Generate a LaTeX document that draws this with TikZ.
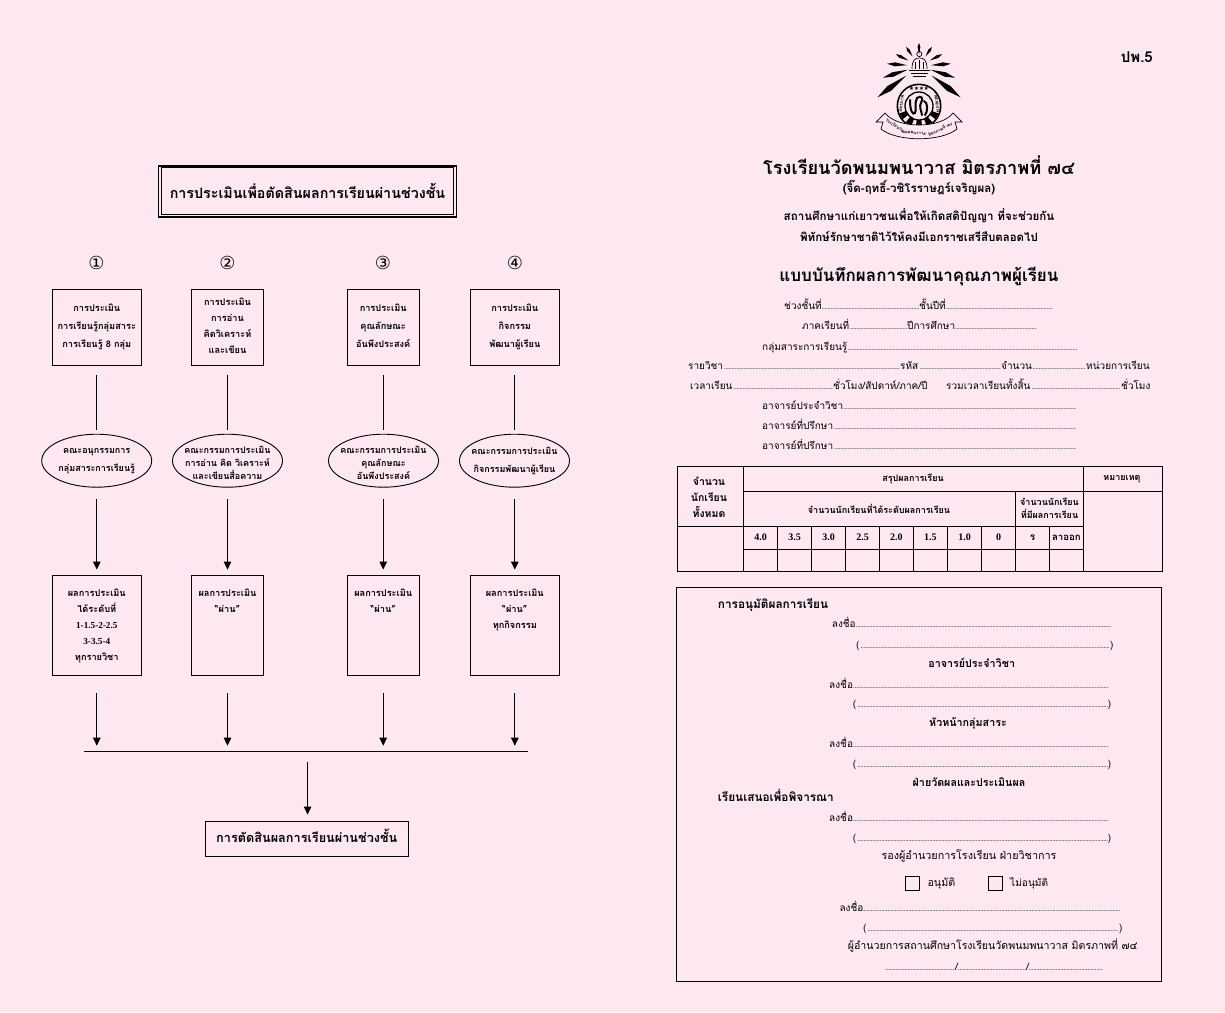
\documentclass[tikz,border=0pt]{standalone}
\usepackage{fontspec}
\usetikzlibrary{arrows.meta,shapes.geometric}
\setmainfont[Script=Thai]{Loma}
\newfontfamily\numfont{Liberation Serif}
\newfontfamily\symfont{DejaVu Sans}
\definecolor{pagepink}{RGB}{253,232,241}
\newcommand{\DotLeader}{\leaders\hbox to 1.5pt{\hss\fontsize{6.5}{7}\selectfont.\hss}\hfill}
\newcommand{\Seg}[2]{\hbox to #1pt{#2\DotLeader}}
\newcommand{\TextUp}{\rule[-3.5pt]{0pt}{0pt}}
\newcommand{\TextDown}{\rule{0pt}{12pt}}
\tikzset{
  boxbase/.style={draw, line width=0.9pt, inner sep=0pt, align=center,
    font=\bfseries\fontsize{9.2}{16}\selectfont},
  assessbox/.style={boxbase},
  resultbox/.style={boxbase},
  boxtext/.style={inner sep=0pt, anchor=north, align=center,
    font=\bfseries\fontsize{9.2}{16}\selectfont},
  cmteell/.style={ellipse, draw, line width=0.9pt, inner xsep=-6pt, inner ysep=-2pt, align=center,
    minimum width=110pt, minimum height=53pt,
    font=\bfseries\fontsize{9}{13}\selectfont},
  stepnum/.style={inner sep=0pt, font=\symfont\fontsize{18}{18}\selectfont},
  plainline/.style={line width=0.9pt},
  arrowline/.style={line width=0.9pt, -{Triangle[width=7.5pt,length=8pt]}},
  formtext/.style={anchor=base west, inner sep=0pt, yshift=-3.5pt,
    font=\fontsize{10}{12}\selectfont},
  formhead/.style={anchor=base west, inner sep=0pt, yshift=-4pt,
    font=\bfseries\fontsize{11.8}{14}\selectfont},
  formmid/.style={anchor=base, inner sep=0pt, yshift=-4pt,
    font=\bfseries\fontsize{10.7}{13}\selectfont},
  tablehead/.style={inner sep=0pt, align=center,
    font=\bfseries\fontsize{9}{13}\selectfont},
  tablenum/.style={inner sep=0pt, font=\numfont\bfseries\fontsize{10}{12}\selectfont},
  schoolline/.style={anchor=base, inner sep=0pt},
  tinyseal/.style={inner sep=0pt, font=\bfseries\fontsize{4.2}{5}\selectfont},
}
\begin{document}
\begin{tikzpicture}[x=1pt, y=-1pt]
  \fill[pagepink] (0,0) rectangle (1225,1012);
  \useasboundingbox (0,0) rectangle (1225,1012);

  % left page
  \node[draw, line width=0.7pt, minimum width=292pt, minimum height=47pt, inner sep=0pt,
    font=\bfseries\fontsize{14.3}{16}\selectfont] (headbox) at (307.5,190.5)
    {การประเมินเพื่อตัดสินผลการเรียนผ่านช่วงชั้น};
  \draw[line width=1.8pt] (158.5,166) rectangle (456.5,217);

  \node[stepnum] (num1) at (96.5,262.7) {①};
  \node[stepnum] (num2) at (227.5,262.7) {②};
  \node[stepnum] (num3) at (383,262.7) {③};
  \node[stepnum] (num4) at (515,262.7) {④};

  \node[assessbox, minimum width=89.6pt, minimum height=76.4pt, font=\bfseries\fontsize{9.2}{18}\selectfont] (eval1) at (96.8,327.5)
    {การประเมิน\\การเรียนรู้กลุ่มสาระ\\การเรียนรู้ 8 กลุ่ม\TextUp};
  \node[assessbox, minimum width=72pt, minimum height=76.4pt] (eval2) at (227.5,327.5)
    {การประเมิน\\การอ่าน\\คิดวิเคราะห์\\และเขียน\TextUp};
  \node[assessbox, minimum width=72.5pt, minimum height=76.4pt, font=\bfseries\fontsize{9.2}{18}\selectfont] (eval3) at (383.2,327.5)
    {การประเมิน\\คุณลักษณะ\\อันพึงประสงค์\TextUp};
  \node[assessbox, minimum width=89.6pt, minimum height=76.4pt, font=\bfseries\fontsize{9.2}{18}\selectfont] (eval4) at (514.8,327.5)
    {การประเมิน\\กิจกรรม\\พัฒนาผู้เรียน\TextUp};

  \node[cmteell, font=\bfseries\fontsize{9}{18}\selectfont] (cmte1) at (96.7,460.7) {คณะอนุกรรมการ\\กลุ่มสาระการเรียนรู้};
  \node[cmteell] (cmte2) at (227.5,460.7) {\TextDown คณะกรรมการประเมิน\\การอ่าน คิด วิเคราะห์\\และเขียนสื่อความ};
  \node[cmteell] (cmte3) at (383.5,460.7) {\TextDown คณะกรรมการประเมิน\\คุณลักษณะ\\อันพึงประสงค์};
  \node[cmteell, font=\bfseries\fontsize{9}{18}\selectfont] (cmte4) at (514.5,460.7) {คณะกรรมการประเมิน\\กิจกรรมพัฒนาผู้เรียน};

  \node[resultbox, minimum width=89.6pt, minimum height=100.7pt] (res1) at (96.8,625.4) {};
  \node[resultbox, minimum width=72pt, minimum height=100.7pt] (res2) at (227.5,625.4) {};
  \node[resultbox, minimum width=72.5pt, minimum height=100.7pt] (res3) at (383.2,625.4) {};
  \node[resultbox, minimum width=89.6pt, minimum height=100.7pt] (res4) at (514.8,625.4) {};
  \node[boxtext] (restext1) at (96.8,589) {ผลการประเมิน\\ได้ระดับที่\\{\numfont 1-1.5-2-2.5}\\{\numfont 3-3.5-4}\\ทุกรายวิชา};
  \node[boxtext] (restext2) at (227.5,589) {ผลการประเมิน\\“ผ่าน”};
  \node[boxtext] (restext3) at (383.2,589) {ผลการประเมิน\\“ผ่าน”};
  \node[boxtext] (restext4) at (514.8,589) {ผลการประเมิน\\“ผ่าน”\\ทุกกิจกรรม};

  \coordinate (barleft) at (84,751.7);
  \coordinate (barright) at (528,751.7);
  \coordinate (barmid) at (307.6,751.7);
  \node[draw, line width=0.9pt, minimum width=202.4pt, minimum height=35pt, inner sep=0pt,
    font=\bfseries\fontsize{12.7}{14}\selectfont] (decide) at (306.8,839.2)
    {การตัดสินผลการเรียนผ่านช่วงชั้น\rule[-7pt]{0pt}{0pt}};

  \foreach \i in {1,2,3,4} {
    \draw[plainline, shorten <=9pt, shorten >=4pt] (eval\i) ++(0,38.2) -- (eval\i |- cmte\i.north);
    \draw[arrowline, shorten <=11pt, shorten >=5pt] (eval\i |- cmte\i.south) -- (eval\i |- res\i.north);
    \draw[arrowline, shorten <=17pt, shorten >=6pt] (res\i) ++(0,50.35) -- (res\i |- barleft);
  }
  \draw[plainline] (barleft) -- (barright);
  \draw[arrowline, shorten <=10pt, shorten >=6.7pt] (barmid) -- (barmid |- decide.north);

  % school seal
  \begin{scope}[shift={(919,66)}]
    \foreach \a/\s/\r/\w in {217/16/52/3,198/12/38/2.3,176/12/32/2,153/12/26/1.6,124/11.5/23/1.4,90/11.5/23/1.4,56/11.5/23/1.4,27/12/26/1.6,4/12/32/2,-18/12/38/2.3,-37/16/52/3}
      \fill[black, rotate=\a] (\s,0) -- (0.55*\s+0.55*\r,\w) -- (\r,0) -- (0.55*\s+0.55*\r,-\w) -- cycle;
  \end{scope}
  \draw[line width=0.7pt] (919.3,46) -- (919.3,51);
  \draw[line width=0.7pt] (919.3,54) circle (2.6pt);
  \draw[line width=0.7pt] (912,69) .. controls (912,60) and (915,58) .. (919.3,58) .. controls (924,58) and (927,60) .. (927,69);
  \draw[line width=0.7pt] (915,69) -- (915,62) (919.3,60) -- (919.3,69) (923.5,62) -- (923.5,69);
  \draw[line width=0.7pt] (909,70) -- (930,70) (911,73) -- (928,73) (913,76) -- (926,76);
  \begin{scope}[shift={(919,106)}]
    \fill[black] (0,0) circle (22.5);
    \fill[pagepink] (0,0) circle (20.8);
    \foreach \a in {30,60,90,120,150} {
      \fill[black] (\a-9:21) -- (\a+9:21) -- (\a+9:14) -- (\a-9:14) -- cycle;
    }
    \draw[line width=1.3pt, fill=pagepink] (0,0) circle (14);
    \draw[line width=2pt, line cap=round] (-9,-6) .. controls (-9,6) and (-6,9) .. (-4,7) .. controls (-2,4) and (-5,-3) .. (-2,-8)
      .. controls (2,-11) and (5,-8) .. (2,-3) .. controls (0,0) and (2,4) .. (3,9);
    \draw[line width=2pt, line cap=round] (5,-5) .. controls (9,-4) and (9,6) .. (6,9);
    \node[inner sep=0pt, font=\symfont\fontsize{5.5}{6}\selectfont] (sealstars) at (0,-17.5) {★★★★};
    \node[tinyseal, rotate=82, font=\bfseries\fontsize{4.5}{5}\selectfont] (sealleft) at (-18,-2) {มิตรภาพ};
    \node[tinyseal, rotate=-82, font=\bfseries\fontsize{3.8}{5}\selectfont] (sealright) at (18,-2) {FRIENDSHIP};
  \end{scope}
  \draw[line width=0.7pt, fill=pagepink] (885,113) .. controls (897,129) and (941,129) .. (953,113)
    -- (962,122) -- (955,122) -- (957,129) .. controls (941,142) and (897,142) .. (881,129)
    -- (883,122) -- (876,122) -- cycle;
  \node[tinyseal, rotate=-32] (sealname1) at (895,125.5) {โรงเรียนวัด};
  \node[tinyseal, rotate=-5] (sealname2) at (914,133) {พนมพนาวาส};
  \node[tinyseal, rotate=26] (sealname3) at (940,129) {มิตรภาพที่ ๗๔};

  % right page heading
  \node[formhead, anchor=base east, font=\bfseries\fontsize{15}{17}\selectfont] (formcode) at (1153,58) {ปพ.5};
  \node[schoolline, font=\bfseries\fontsize{18.2}{20}\selectfont] (school) at (919,174) {โรงเรียนวัดพนมพนาวาส มิตรภาพที่ ๗๔};
  \node[schoolline, font=\bfseries\fontsize{11.5}{13}\selectfont] (schoolsub) at (919,192) {(จิ๊ด-ฤทธิ์-วชิโรราษฎร์เจริญผล)};
  \node[schoolline, font=\bfseries\fontsize{11.6}{13}\selectfont] (motto1) at (919,220) {สถานศึกษาแก่เยาวชนเพื่อให้เกิดสติปัญญา ที่จะช่วยกัน};
  \node[schoolline, font=\bfseries\fontsize{11.5}{13}\selectfont] (motto2) at (919,241) {พิทักษ์รักษาชาติไว้ให้คงมีเอกราชเสรีสืบตลอดไป};
  \node[schoolline, font=\bfseries\fontsize{17}{19}\selectfont] (formtitle) at (919,281) {แบบบันทึกผลการพัฒนาคุณภาพผู้เรียน};

  \node[formtext] (line1) at (784,306) {\Seg{135}{ช่วงชั้นที่}\Seg{134}{ชั้นปีที่}};
  \node[formtext] (line2) at (802,326) {\Seg{105}{ภาคเรียนที่}\Seg{129}{ปีการศึกษา}};
  \node[formtext] (line3) at (762,347) {\Seg{315}{กลุ่มสาระการเรียนรู้}};
  \node[formtext] (line4) at (688,366) {\Seg{212}{รายวิชา}\Seg{101}{รหัส}\Seg{85}{จำนวน}หน่วยการเรียน};
  \node[formtext] (line5) at (690,386) {\Seg{143}{เวลาเรียน}\hbox to 113pt{ชั่วโมง/สัปดาห์/ภาค/ปี\hfill}\Seg{175}{รวมเวลาเรียนทั้งสิ้น}ชั่วโมง};
  \node[formtext] (line6) at (762,406) {\Seg{314}{อาจารย์ประจำวิชา}};
  \node[formtext] (line7) at (762,426) {\Seg{314}{อาจารย์ที่ปรึกษา}};
  \node[formtext] (line8) at (762,446) {\Seg{314}{อาจารย์ที่ปรึกษา}};

  % results table
  \draw[line width=0.9pt] (677,466.7) rectangle (1162,571.7);
  \draw[line width=0.9pt] (743.3,466.7) -- (743.3,571.7) (1083.3,466.7) -- (1083.3,571.7);
  \draw[line width=0.9pt] (743.3,491.7) -- (1162,491.7) (677,526) -- (1083.3,526);
  \draw[line width=1.3pt] (743.3,549.3) -- (1083.3,549.3);
  \draw[line width=0.9pt] (1015.7,491.7) -- (1015.7,526);
  \foreach \x in {777.7,811.7,845.7,879.3,913.3,947.3,981.7,1015.7,1049.3}
    \draw[line width=0.9pt] (\x,526) -- (\x,571.7);
  \node[tablehead, font=\bfseries\fontsize{10.5}{16}\selectfont] (totalhead) at (709,497) {จำนวน\\นักเรียน\\ทั้งหมด};
  \node[tablehead] (sumhead) at (913,479) {สรุปผลการเรียน};
  \node[tablehead] (notehead) at (1122,479) {หมายเหตุ};
  \node[tablehead] (gradehead) at (879,509) {จำนวนนักเรียนที่ได้ระดับผลการเรียน};
  \node[tablehead] (otherhead) at (1049.5,508.5) {จำนวนนักเรียน\\ที่มีผลการเรียน};
  \foreach \nm/\x/\v in {g40/760.5/4.0,g35/794.7/3.5,g30/828.7/3.0,g25/862.5/2.5,g20/896.3/2.0,g15/930.3/1.5,g10/964.5/1.0,g0/998.7/0}
    \node[tablenum] (\nm) at (\x,537.7) {\v};
  \node[tablehead, font=\bfseries\fontsize{10}{12}\selectfont] (gradeR) at (1032.5,537.7) {ร};
  \node[tablehead, font=\bfseries\fontsize{9.6}{12}\selectfont] (gradeOut) at (1066.3,537.7) {ลาออก};

  % approval box
  \draw[line width=0.9pt] (676.7,587.3) rectangle (1161.7,981);
  \node[formhead] (approve) at (717.7,604) {การอนุมัติผลการเรียน};
  \foreach \nm/\x/\w/\xb/\wb/\ya/\yb in {a/831.7/280.3/856/254/624/645,b/829/280/852.7/255/685/704,c/829/280/852.7/255/744/764,d/829/280/852.7/255/818/838,e/839.3/280.7/863/256/908/927.7} {
    \node[formtext] (sign\nm) at (\x,\ya) {\Seg{\w}{ลงชื่อ}};
    \node[formtext] (paren\nm) at (\xb,\yb) {\Seg{\wb}{(})};
  }
  \node[formmid] (teacher) at (971.7,663) {อาจารย์ประจำวิชา};
  \node[formmid] (grouphead) at (968,722) {หัวหน้ากลุ่มสาระ};
  \node[formmid] (measure) at (969,782) {ฝ่ายวัดผลและประเมินผล};
  \node[formhead] (propose) at (717.7,797.7) {เรียนเสนอเพื่อพิจารณา};
  \node[formtext, anchor=base, font=\fontsize{10.8}{13}\selectfont] (deputy) at (969,856) {รองผู้อำนวยการโรงเรียน ฝ่ายวิชาการ};
  \draw[line width=0.6pt] (905.3,876.7) rectangle (919,890);
  \draw[line width=0.6pt] (988.3,876.7) rectangle (1002,890);
  \node[formtext, font=\fontsize{10.7}{13}\selectfont] (okay) at (927.3,883) {อนุมัติ};
  \node[formtext, font=\fontsize{10.1}{13}\selectfont] (notokay) at (1010,883) {ไม่อนุมัติ};
  \node[formtext, font=\fontsize{10.6}{13}\selectfont] (director) at (847.7,945.7) {ผู้อำนวยการสถานศึกษาโรงเรียนวัดพนมพนาวาส มิตรภาพที่ ๗๔};
  \node[formtext] (dateline) at (885,967) {\Seg{70}{}/\Seg{68}{}/\Seg{74}{}};
\end{tikzpicture}
\end{document}
